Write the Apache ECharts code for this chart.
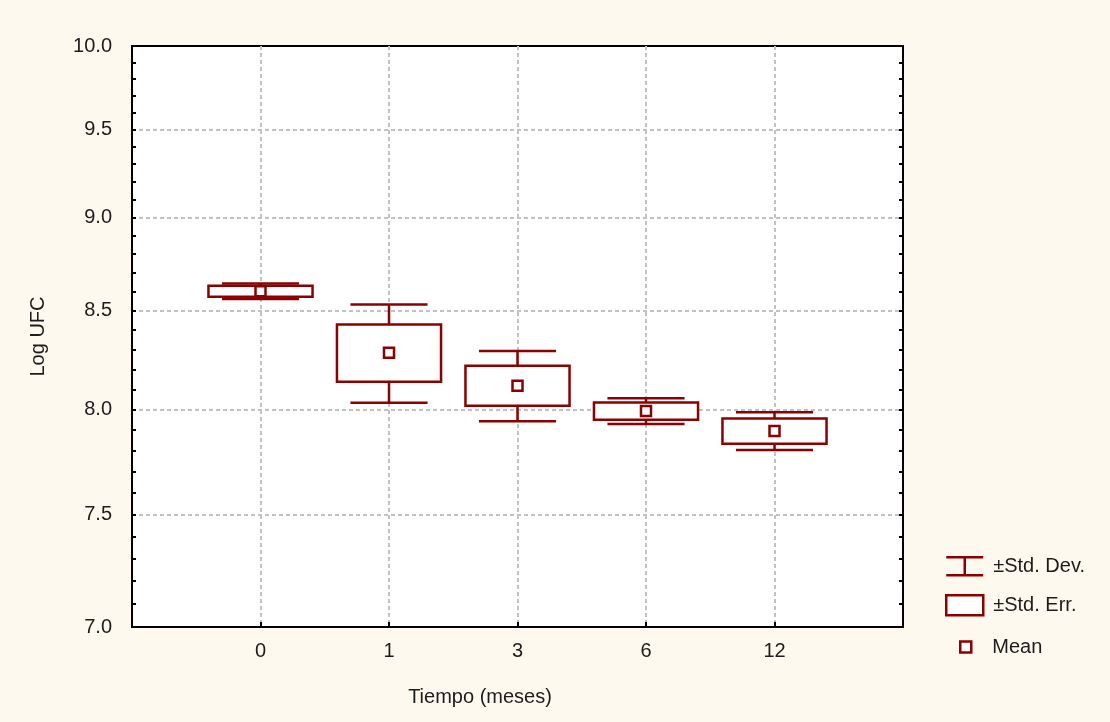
<!DOCTYPE html>
<html>
<head>
<meta charset="utf-8">
<script src="https://cdn.jsdelivr.net/npm/echarts@6/dist/echarts.min.js"></script>
<style>
html,body{margin:0;padding:0;background:#fef9ee;}
#chart{width:1110px;height:722px;}
</style>
</head>
<body>
<div id="chart"></div>
<script>
// ---- data ----
const categories = ['0', '1', '3', '6', '12'];
const means   = [8.602, 8.283, 8.118, 7.992, 7.895];
const stdErr  = [0.029, 0.145, 0.100, 0.042, 0.061];
const stdDev  = [0.041, 0.250, 0.175, 0.063, 0.092];
const yTickValues = [7.0, 7.5, 8.0, 8.5, 9.0, 9.5, 10.0];
const seriesNames = ['±Std. Dev.', '±Std. Err.', 'Mean'];
const xTitle = 'Tiempo (meses)';
const yTitle = 'Log UFC';

// ---- styling ----
const COLOR = '#8b0000';
const FONT = "'Liberation Sans', Arial, sans-serif";
const TEXT = '#1c1c1c';
const LW = 2.5;

const minorTicks = [];
for (let i = 70; i <= 100; i++) minorTicks.push(i / 10);
const gridValues = yTickValues.slice(1, -1);

const rows = categories.map((c, i) => [i + 1, means[i], stdErr[i], stdDev[i]]);

function half(api, x, m, frac) {
  return api.coord([x + frac, m])[0] - api.coord([x, m])[0];
}

function renderSD(params, api) {
  const x = api.value(0), m = api.value(1), se = api.value(2), sd = api.value(3);
  const cap = half(api, x, m, 0.30);
  const t = api.coord([x, m + sd]), b = api.coord([x, m - sd]);
  const bt = api.coord([x, m + se]), bb = api.coord([x, m - se]);
  const style = { stroke: COLOR, lineWidth: LW, fill: null };
  return { type: 'group', children: [
    { type: 'line', shape: { x1: t[0] - cap, y1: t[1], x2: t[0] + cap, y2: t[1] }, style },
    { type: 'line', shape: { x1: t[0], y1: t[1], x2: bt[0], y2: bt[1] }, style },
    { type: 'line', shape: { x1: bb[0], y1: bb[1], x2: b[0], y2: b[1] }, style },
    { type: 'line', shape: { x1: b[0] - cap, y1: b[1], x2: b[0] + cap, y2: b[1] }, style }
  ]};
}

function renderSE(params, api) {
  const x = api.value(0), m = api.value(1), se = api.value(2);
  const w = half(api, x, m, 0.405);
  const bt = api.coord([x, m + se]), bb = api.coord([x, m - se]);
  return { type: 'rect', shape: { x: bt[0] - w, y: bt[1], width: 2 * w, height: bb[1] - bt[1] },
    style: { fill: '#fff', stroke: COLOR, lineWidth: LW } };
}

function renderMean(params, api) {
  const p = api.coord([api.value(0), api.value(1)]);
  return { type: 'rect', shape: { x: p[0] - 5, y: p[1] - 5, width: 10, height: 10 },
    style: { fill: '#fff', stroke: COLOR, lineWidth: LW } };
}

const chart = echarts.init(document.getElementById('chart'), null, { renderer: 'canvas' });

const legendText = { fontFamily: FONT, fontSize: 20, color: TEXT };

chart.setOption({
  backgroundColor: '#fef9ee',
  animation: false,
  textStyle: { fontFamily: FONT },
  grid: { left: 132, right: 207, top: 46, bottom: 95, show: true, backgroundColor: '#fff', borderColor: '#000', borderWidth: 2 },
  legend: [
    { data: [seriesNames[0]], left: 940, top: 551, orient: 'vertical', selectedMode: false,
      itemWidth: 37, itemHeight: 20, icon: 'path://M0,1H37M18.5,1V19M0,19H37',
      itemStyle: { color: 'rgba(0,0,0,0)', borderColor: COLOR, borderWidth: LW },
      textStyle: Object.assign({ padding: [0, 0, 0, 5] }, legendText) },
    { data: [seriesNames[1]], left: 940, top: 589, orient: 'vertical', selectedMode: false,
      itemWidth: 37, itemHeight: 20, icon: 'rect',
      itemStyle: { color: '#fff', borderColor: COLOR, borderWidth: LW },
      textStyle: Object.assign({ padding: [0, 0, 0, 5] }, legendText) },
    { data: [seriesNames[2]], left: 954, top: 632, orient: 'vertical', selectedMode: false,
      itemWidth: 11, itemHeight: 11, icon: 'rect',
      itemStyle: { color: '#fff', borderColor: COLOR, borderWidth: LW },
      textStyle: Object.assign({ padding: [0, 0, 0, 16] }, legendText) }
  ],
  xAxis: {
    type: 'value', min: 0, max: 6, interval: 1,
    name: xTitle, nameLocation: 'middle', nameGap: 60,
    nameTextStyle: { fontFamily: FONT, fontSize: 20, color: TEXT, padding: [0, 75, 0, 0] },
    axisLine: { show: true, lineStyle: { color: '#000', width: 2 } },
    axisTick: { show: true, inside: true, length: 5, lineStyle: { color: '#000', width: 2 } },
    axisLabel: { fontFamily: FONT, fontSize: 20, color: TEXT, margin: 14,
      formatter: v => categories[v - 1] || '' },
    splitLine: { show: true, lineStyle: { color: '#c2c2c2', width: 2, type: [4, 3] } }
  },
  yAxis: [
    { type: 'log', logBase: 10, min: 7, max: 10, position: 'left',
      name: yTitle, nameLocation: 'middle', nameGap: 84, nameRotate: 90,
      nameTextStyle: { fontFamily: FONT, fontSize: 20, color: TEXT },
      axisLine: { show: true, lineStyle: { color: '#000', width: 2 } },
      axisTick: { show: true, inside: true, length: 4, customValues: minorTicks, lineStyle: { color: '#000', width: 2 } },
      axisLabel: { customValues: yTickValues, fontFamily: FONT, fontSize: 20, color: TEXT, margin: 20,
        formatter: v => Number(v).toFixed(1) },
      splitLine: { show: false } },
    { type: 'log', logBase: 10, min: 7, max: 10, position: 'left',
      axisLine: { show: false },
      axisTick: { show: false, customValues: gridValues },
      axisLabel: { show: false, customValues: gridValues },
      splitLine: { show: true, lineStyle: { color: '#c2c2c2', width: 2, type: [4, 3] } } },
    { type: 'log', logBase: 10, min: 7, max: 10, position: 'right',
      axisLine: { show: true, lineStyle: { color: '#000', width: 2 } },
      axisTick: { show: true, inside: true, length: 4, customValues: minorTicks, lineStyle: { color: '#000', width: 2 } },
      axisLabel: { show: false },
      splitLine: { show: false } }
  ],
  series: [
    { name: seriesNames[0], type: 'custom', renderItem: renderSD, data: rows, yAxisIndex: 0,
      encode: { x: 0, y: [1] }, z: 2, color: COLOR },
    { name: seriesNames[1], type: 'custom', renderItem: renderSE, data: rows, yAxisIndex: 0,
      encode: { x: 0, y: [1] }, z: 3, color: COLOR },
    { name: seriesNames[2], type: 'custom', renderItem: renderMean, data: rows, yAxisIndex: 0,
      encode: { x: 0, y: [1] }, z: 4, color: COLOR }
  ]
});
</script>
</body>
</html>
